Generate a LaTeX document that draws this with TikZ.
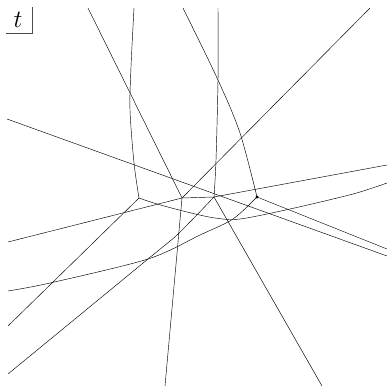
\documentclass[tikz,border=0pt]{standalone}
\usepackage{tikz}
\begin{document}
\begin{tikzpicture}[x=1pt,y=-1pt,
  wall/.style={line width=0.45pt},
  frame/.style={line width=0.8pt,black!70}]
\useasboundingbox (0,0) rectangle (388,388);

% Define nodes
\node (t) at (18,20) {\fontsize{27}{30}\selectfont\(t\)};
\coordinate (tb) at (6,33);
\coordinate (tc) at (32,33);
\coordinate (tt) at (32,7);

\coordinate (j1) at (139,198);
\coordinate (j2) at (182,198);
\coordinate (j3) at (214,197);
\coordinate (j4) at (257,197);

\coordinate (a) at (88,8);
\coordinate (b) at (134,8);
\coordinate (c) at (183,8);
\coordinate (d) at (218,8);
\coordinate (e) at (370,8);
\coordinate (f) at (7,119);
\coordinate (g) at (8,242);
\coordinate (h) at (8,291);
\coordinate (i) at (8,326);
\coordinate (j) at (8,374);
\coordinate (k) at (387,165);
\coordinate (l) at (387,183);
\coordinate (m) at (387,249);
\coordinate (ff) at (387,256);
\coordinate (n) at (165,386);
\coordinate (o) at (322,386);

% Draw edges
\draw[frame] (tb) -- (tc) -- (tt);

\draw[wall] (a) -- (j2);
\draw[wall] (e) -- (j2);
\draw[wall] (j2) -- (n);
\draw[wall] (g) -- (j2) -- (j3);

\draw[wall] plot[smooth] coordinates {(b) (131,67) (130,110) (134,163) (j1)};
\draw[wall] (j1) -- (i);
\draw[wall] plot[smooth] coordinates {(j1) (157,204) (187,212) (215,218) (240,219) (290,209) (353,194) (l)};

\draw[wall] plot[smooth] coordinates {(d) (218,80) (216,160) (j3)};
\draw[wall] plot[smooth] coordinates {(j3) (178,234) (148,259) (j)};
\draw[wall] (j3) -- (o);
\draw[wall] (j3) -- (k);

\draw[wall] plot[smooth] coordinates {(c) (218,80) (240,133) (j4)};
\draw[wall] plot[smooth] coordinates {(j4) (233,219) (200,235) (148,259) (50,283) (h)};
\draw[wall] (j4) -- (m);
\fill (j4) circle (1.6);

\draw[wall] (f) -- (ff);
\end{tikzpicture}
\end{document}
